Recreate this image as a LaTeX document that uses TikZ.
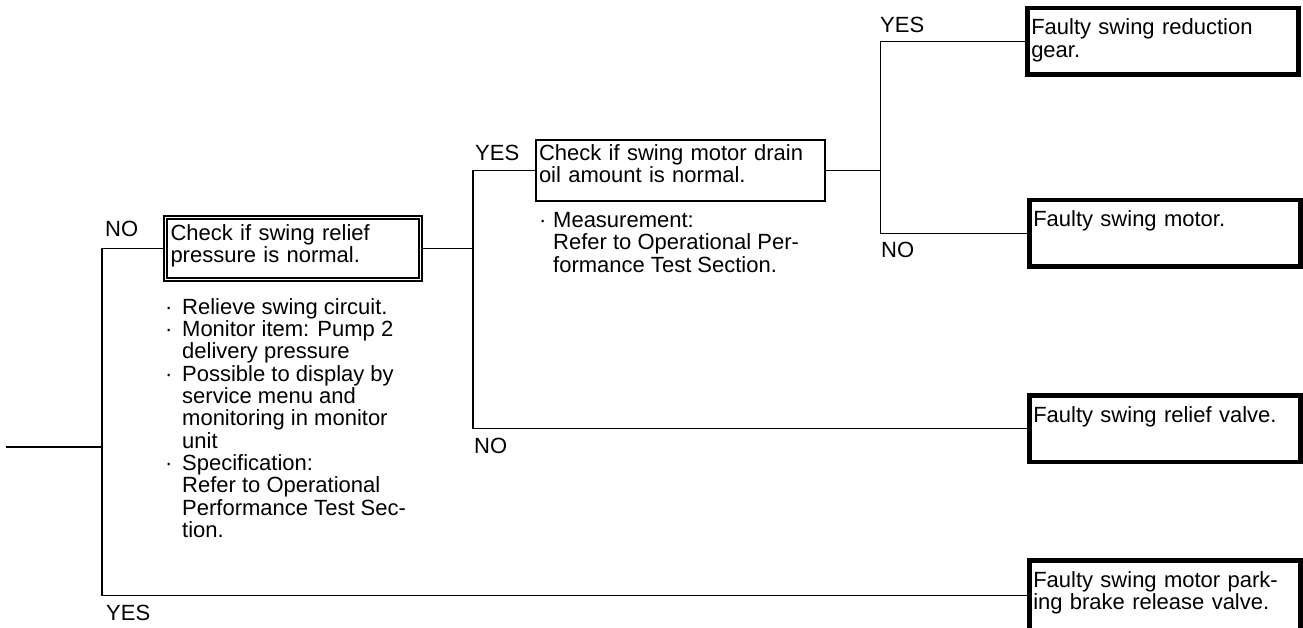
\documentclass[tikz,border=0pt]{standalone}
\usepackage{fontspec}
\setmainfont{Liberation Sans}
\usetikzlibrary{backgrounds}
\tikzset{
  % rutor
  endbox/.style={draw,fill=white,line width=4.5pt,outer sep=0pt,anchor=north west,
    align=left,text width=263pt,inner xsep=4pt,inner ysep=10.75pt,
    text height=16pt,text depth=29pt},
  chkbox/.style={draw,fill=white,double,double distance=1.8pt,line width=1.6pt,
    outer sep=0pt,anchor=north west,align=left,text width=245pt,inner xsep=5pt,
    inner ysep=7.2pt,text height=16pt,text depth=31.6pt},
  qbox/.style={draw,fill=white,line width=2pt,outer sep=0pt,anchor=north west,
    align=left,text width=282.7pt,inner xsep=3pt,inner ysep=4.7pt,
    text height=16pt,text depth=35.9pt},
  % texter
  yn/.style={anchor=base west,inner sep=0pt},
  note/.style={anchor=north west,inner sep=0pt,align=left},
  % linjer
  ln/.style={draw=black,line width=1.4pt},
}

\begin{document}
\begin{tikzpicture}[x=1pt,y=-1pt,every node/.append style={font=\fontsize{22}{22.3}\selectfont}]
  \useasboundingbox (0,0) rectangle (1303,628);
  \node[chkbox] (chk) at (165.5,217.5) {Check if swing relief\\pressure is normal.};
  \node[qbox] (drain) at (536,140) {Check if swing motor drain\\oil amount is normal.};
  \node[endbox] (gear) at (1027.25,8.25) {Faulty swing reduction\\gear.};
  \node[endbox] (motor) at (1029.25,200.25) {Faulty swing motor.};
  \node[endbox] (valve) at (1029.25,395.25) {Faulty swing relief valve.};
  \node[endbox,text depth=33pt] (brk) at (1029.25,560.25)
    {Faulty swing motor park-\\ing brake release valve.};
  \node[yn] (no1) at (105,237) {NO};
  \node[yn] (yes1) at (106,620.7) {YES};
  \node[yn] (yes2) at (475,160.7) {YES};
  \node[yn] (no2) at (474,453) {NO};
  \node[yn] (yes3) at (880,33) {YES};
  \node[yn] (no3) at (881,258) {NO};
  % anvisningar under rutorna (overkant = forsta baslinjen - 15.8)
  \node[note] (chknote) at (165,298.2) {%
    \makebox[17pt][l]{·}Relieve swing circuit.\\
    \makebox[17pt][l]{·}Monitor item: Pump 2\\
    \hspace*{17pt}delivery pressure\\
    \makebox[17pt][l]{·}Possible to display by\\
    \hspace*{17pt}service menu and\\
    \hspace*{17pt}monitoring in monitor\\
    \hspace*{17pt}unit\\
    \makebox[17pt][l]{·}Specification:\\
    \hspace*{17pt}Refer to Operational\\
    \hspace*{17pt}Performance Test Sec-\\
    \hspace*{17pt}tion.};
  \node[note] (drainnote) at (539,212.2) {%
    \makebox[14pt][l]{·}Measurement:\\
    \hspace*{14pt}Refer to Operational Per-\\
    \hspace*{14pt}formance Test Section.};
  \coordinate (start) at (6,447);
  \coordinate (j1) at (102,447);
  \path (chk.east) ++(52.5,0) coordinate (j2);
  \path (drain.east) ++(56,0) coordinate (j3);
  \begin{scope}[on background layer]
  \draw[ln] (start) -- (j1);
  \draw[ln] (chk.west) -| (j1) |- (brk.west);
  \draw[ln] (chk.east) -- (j2);
  \draw[ln] (drain.west) -| (j2) |- (valve.west);
  \draw[ln] (drain.east) -- (j3);
  \draw[ln] (gear.west) -| (j3) |- (motor.west);
  \end{scope}
\end{tikzpicture}
\end{document}
